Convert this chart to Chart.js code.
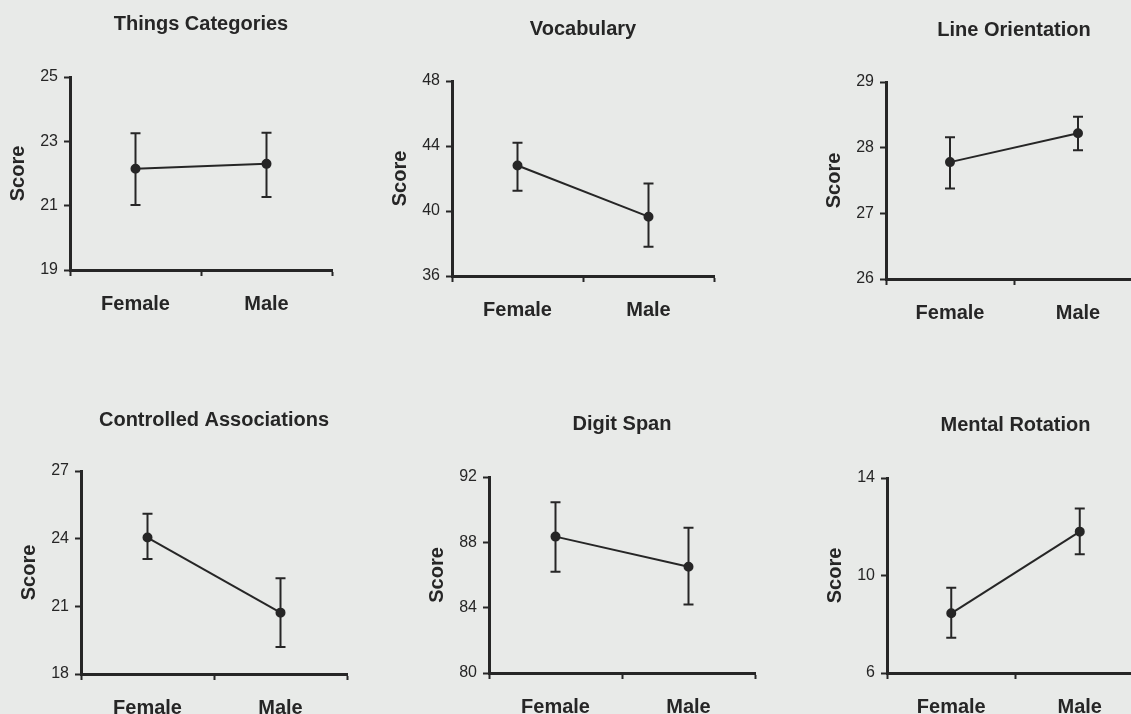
<!DOCTYPE html>
<html>
<head>
<meta charset="utf-8">
<script src="https://cdn.jsdelivr.net/npm/chart.js@4.4.1/dist/chart.umd.min.js"></script>
<style>
  html, body { margin: 0; padding: 0; background: #e8eae8; overflow: hidden; }
  #page { position: relative; width: 1131px; height: 714px; }
  canvas { position: absolute; }
</style>
</head>
<body>
<div id="page"></div>
<script>
// data
const groups = ["Female", "Male"];
const tests = ["Things Categories", "Vocabulary", "Line Orientation",
               "Controlled Associations", "Digit Span", "Mental Rotation"];
const meanScores = [[22.15, 22.3], [42.8, 39.65], [27.78, 28.22], [24.05, 20.72], [88.35, 86.5], [8.45, 11.8]];
const upperBars  = [[23.25, 23.27], [44.2, 41.7], [28.16, 28.47], [25.1, 22.25], [90.45, 88.9], [9.5, 12.75]];
const lowerBars  = [[21.02, 21.27], [41.25, 37.8], [27.38, 27.96], [23.1, 19.2], [86.2, 84.2], [7.45, 10.87]];
const axisMin  = [19, 36, 26, 18, 80, 6];
const axisMax  = [25, 48, 29, 27, 92, 14];
const axisStep = [2, 4, 1, 3, 4, 4];

// panel frames: axis left/top/right/bottom and title centre (page pixels)
const frames = [
  { L: 70,  T: 77,  R: 332,  B: 270, ty: 24 },
  { L: 452, T: 81,  R: 714,  B: 276, ty: 29 },
  { L: 886, T: 82,  R: 1142, B: 279, ty: 30 },
  { L: 81,  T: 471, R: 347,  B: 674, ty: 420 },
  { L: 489, T: 477, R: 755,  B: 673, ty: 424 },
  { L: 887, T: 478, R: 1144, B: 673, ty: 425 }
];

const INK = "#262626";
const FONT = "'Liberation Sans', Arial, sans-serif";
const YW = 64, XH = 46, PAD_L = 4, PAD_R = 8, PAD_T = 2, PAD_B = 4;

// error bars drawn through the chart's own scales
const errorBars = {
  id: "errorBars",
  afterDatasetsDraw(chart, args, opts) {
    const { ctx, scales: { x, y } } = chart;
    ctx.save();
    ctx.strokeStyle = INK;
    ctx.lineWidth = 2;
    opts.lo.forEach((lo, i) => {
      const px = x.getPixelForValue(i);
      const yl = y.getPixelForValue(lo);
      const yh = y.getPixelForValue(opts.hi[i]);
      ctx.beginPath();
      ctx.moveTo(px, yl); ctx.lineTo(px, yh);
      ctx.moveTo(px - 5, yl); ctx.lineTo(px + 5, yl);
      ctx.moveTo(px - 5, yh); ctx.lineTo(px + 5, yh);
      ctx.stroke();
    });
    ctx.restore();
  }
};

const page = document.getElementById("page");

tests.forEach((name, k) => {
  const f = frames[k];
  const left = f.L - YW - PAD_L;
  const top = f.ty - 12 - PAD_T;
  const cv = document.createElement("canvas");
  cv.width = f.R - f.L + YW + PAD_L + PAD_R;
  cv.height = f.B - top + XH + PAD_B;
  cv.style.left = left + "px";
  cv.style.top = top + "px";
  page.appendChild(cv);

  new Chart(cv, {
    type: "line",
    data: {
      labels: groups,
      datasets: [{
        data: meanScores[k],
        borderColor: INK,
        borderWidth: 2,
        pointRadius: 4,
        pointBackgroundColor: INK,
        pointBorderColor: INK,
        tension: 0
      }]
    },
    options: {
      responsive: false,
      animation: false,
      layout: { padding: { left: PAD_L, right: PAD_R, top: PAD_T, bottom: PAD_B } },
      plugins: {
        legend: { display: false },
        tooltip: { enabled: false },
        title: {
          display: true,
          text: name,
          fullSize: false,
          color: INK,
          font: { family: FONT, size: 20, weight: "bold", lineHeight: 1.2 },
          padding: { top: 0, bottom: f.T - f.ty - 12 }
        },
        errorBars: { lo: lowerBars[k], hi: upperBars[k] }
      },
      scales: {
        x: {
          type: "category",
          offset: true,
          afterFit: s => { s.height = XH; },
          border: { display: true, width: 3, color: INK },
          grid: { display: true, offset: true, drawOnChartArea: false, drawTicks: true,
                  tickLength: 6, tickWidth: 2, tickColor: INK },
          ticks: { color: INK, padding: 16, maxRotation: 0,
                   font: { family: FONT, size: 20, weight: "bold" } }
        },
        y: {
          min: axisMin[k],
          max: axisMax[k],
          afterFit: s => { s.width = YW; },
          border: { display: true, width: 3, color: INK },
          grid: { display: true, drawOnChartArea: false, drawTicks: true,
                  tickLength: 6, tickWidth: 2, tickColor: INK },
          ticks: { stepSize: axisStep[k], color: INK, padding: 6,
                   font: { family: FONT, size: 16 } },
          title: { display: true, text: "Score", color: INK, padding: 0,
                   font: { family: FONT, size: 20, weight: "bold", lineHeight: 1.2 } }
        }
      }
    },
    plugins: [errorBars]
  });
});
</script>
</body>
</html>
